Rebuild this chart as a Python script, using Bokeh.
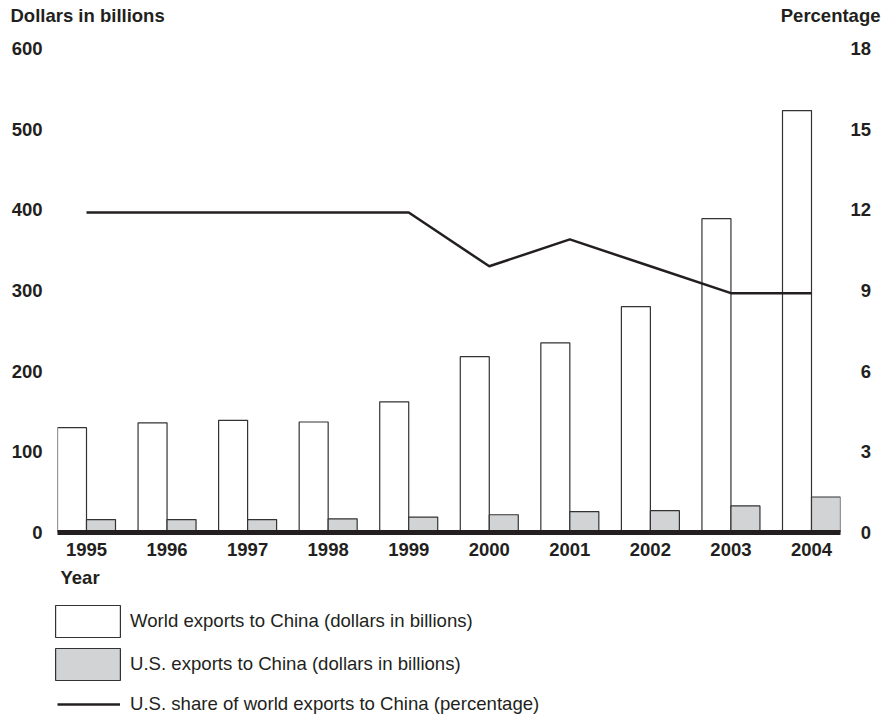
from bokeh.plotting import figure
from bokeh.layouts import column
from bokeh.models import (Range1d, LinearAxis, FixedTicker, Label, Legend,
                          LegendItem, ColumnDataSource)
from bokeh.transform import dodge
from bokeh.embed import file_html
from bokeh.resources import INLINE

# ---- data ----
years = [1995, 1996, 1997, 1998, 1999, 2000, 2001, 2002, 2003, 2004]
world_exports = [130, 136, 139, 137, 162, 218, 235, 280, 389, 523]   # dollars in billions
us_exports = [16, 16, 16, 17, 19, 22, 26, 27, 33, 44]               # dollars in billions
us_share = [11.9, 11.9, 11.9, 11.9, 11.9, 9.9, 10.9, 9.9, 8.9, 8.9]  # percentage
left_ticks = [0, 100, 200, 300, 400, 500, 600]
right_ticks = [0, 3, 6, 9, 12, 15, 18]

INK = "#231f20"
FONT = "Liberation Sans"
BOLD_SIZE = "18.5px"
LEGEND_SIZE = "18.6px"
WHITE_STYLE = dict(fill_color="white", line_color="#333333", line_width=1.2)
GRAY_STYLE = dict(fill_color="#d1d3d4", line_color="#333333", line_width=1.2)
LINE_STYLE = dict(line_color=INK, line_width=2.5)


def blank(fig):
    fig.frame_align = False
    fig.background_fill_color = "white"
    fig.border_fill_color = "white"
    fig.outline_line_color = None
    fig.xgrid.visible = False
    fig.ygrid.visible = False


def text(fig, txt, x, y, align, style="bold"):
    fig.add_layout(Label(x=x, y=y, text=txt, text_align=align, text_baseline="middle",
                         text_font=FONT, text_font_style=style, text_font_size=BOLD_SIZE,
                         text_color=INK))


source = ColumnDataSource(dict(year=years, world=world_exports, us=us_exports, share=us_share))

# ---- header (axis titles), page pixels ----
head = figure(width=891, height=30, x_range=Range1d(0, 891), y_range=Range1d(30, 0),
              x_axis_type=None, y_axis_type=None, output_backend="svg",
              toolbar_location=None, min_border=0)
blank(head)
text(head, "Dollars in billions", 10, 15, "left")
text(head, "Percentage", 880, 15, "right")

# ---- main chart ----
p = figure(width=891, height=538,
           x_range=Range1d(1994.64, 2004.36), y_range=Range1d(0, 600),
           output_backend="svg", toolbar_location=None,
           min_border_left=57, min_border_right=51,
           min_border_top=18, min_border_bottom=36)
p.extra_y_ranges = {"pct": Range1d(0, 18)}
blank(p)

p.vbar(x=dodge("year", -0.18, range=p.x_range), top="world", width=0.36,
       source=source, **WHITE_STYLE)
p.vbar(x=dodge("year", 0.18, range=p.x_range), top="us", width=0.36,
       source=source, **GRAY_STYLE)
p.line(x="year", y="share", source=source, y_range_name="pct", **LINE_STYLE)

right_axis = LinearAxis(y_range_name="pct")
p.add_layout(right_axis, "right")

p.xaxis.ticker = FixedTicker(ticks=years)
p.yaxis[0].ticker = FixedTicker(ticks=left_ticks)
right_axis.ticker = FixedTicker(ticks=right_ticks)
# right-align the one-digit labels with a figure space
right_axis.major_label_overrides = {t: ("\u2007" + str(t) if t < 10 else str(t))
                                    for t in right_ticks}

for ax in [p.xaxis[0], p.yaxis[0], right_axis]:
    ax.major_label_text_font = FONT
    ax.major_label_text_font_style = "bold"
    ax.major_label_text_font_size = BOLD_SIZE
    ax.major_label_text_color = INK
    ax.major_tick_out = 0
    ax.major_tick_in = 0
    ax.minor_tick_out = 0
    ax.minor_tick_in = 0

p.yaxis[0].axis_line_color = None
p.yaxis[0].major_label_standoff = 15
right_axis.axis_line_color = None
right_axis.major_label_standoff = 10
p.xaxis[0].axis_line_color = INK
p.xaxis[0].axis_line_width = 5
p.xaxis[0].major_label_standoff = 10

# ---- footer ("Year" and the legend), page pixels ----
foot = figure(width=891, height=149, x_range=Range1d(0, 891), y_range=Range1d(717, 568),
              x_axis_type=None, y_axis_type=None, output_backend="svg",
              toolbar_location=None, min_border=0)
blank(foot)
text(foot, "Year", 60, 577, "left")

# legend keys: hidden renderers sharing the chart's data and styles
k_white = foot.vbar(x="year", top="world", width=0.36, source=source, visible=False, **WHITE_STYLE)
k_gray = foot.vbar(x="year", top="us", width=0.36, source=source, visible=False, **GRAY_STYLE)
k_line = foot.line(x="year", y="share", source=source, visible=False, **LINE_STYLE)

leg_boxes = Legend(items=[
    LegendItem(label="World exports to China (dollars in billions)", renderers=[k_white]),
    LegendItem(label="U.S. exports to China (dollars in billions)", renderers=[k_gray]),
], location=(47, 33), glyph_width=81, glyph_height=40, spacing=3, padding=0, margin=0,
    label_standoff=2, label_text_font=FONT, label_text_font_size=LEGEND_SIZE,
    label_text_color=INK, background_fill_alpha=0, border_line_color=None)
leg_line = Legend(items=[
    LegendItem(label="U.S. share of world exports to China (percentage)", renderers=[k_line]),
], location=(57, 2), glyph_width=63, glyph_height=20, label_height=20, padding=0, margin=0,
    label_standoff=10, label_text_font=FONT, label_text_font_size=LEGEND_SIZE,
    label_text_color=INK, background_fill_alpha=0, border_line_color=None)
foot.add_layout(leg_boxes)
foot.add_layout(leg_line)

layout = column(head, p, foot, spacing=0)
open("out.html", "w").write(file_html(layout, INLINE))
